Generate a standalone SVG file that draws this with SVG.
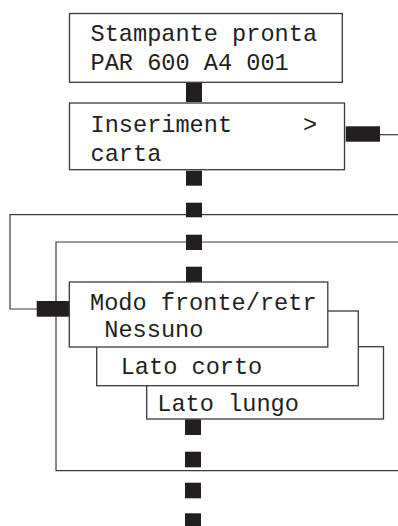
<svg xmlns="http://www.w3.org/2000/svg" width="398" height="526" viewBox="0 0 398 526">
<style>
.box{fill:#fff;stroke:#3a3a3a;stroke-width:1.3}
.ln{fill:none;stroke:#3a3a3a;stroke-width:1.2}
.blk{fill:#231f20}
text{font-family:"Liberation Mono","Courier New",monospace;font-size:23.6px;fill:#231f20}
</style>
<rect width="398" height="526" fill="#fff"/>
<g id="connectors">
<polyline class="ln" points="398,214.7 10,214.7 10,309 40,309"/>
<polyline class="ln" points="398,242 56,242 56,470.7 398,470.7"/>
<line class="ln" x1="378" y1="134.7" x2="398" y2="134.7"/>
<rect class="blk" x="186" y="83" width="16" height="19"/>
<rect class="blk" x="186" y="170.7" width="16" height="15"/>
<rect class="blk" x="345.7" y="126.3" width="34.3" height="15.4"/>
<rect class="blk" x="186" y="202.7" width="16" height="14.6"/>
<rect class="blk" x="186" y="234.7" width="16" height="15.3"/>
<rect class="blk" x="186" y="266.7" width="16" height="15.6"/>
<rect class="blk" x="36.7" y="301" width="32.6" height="15.7"/>
<rect class="blk" x="185" y="419.3" width="16" height="15.7"/>
<rect class="blk" x="185" y="451.7" width="16" height="15.6"/>
<rect class="blk" x="185" y="482.7" width="16" height="15.6"/>
<rect class="blk" x="185" y="513.3" width="16" height="15"/>
</g>
<g id="node-stampante">
<rect class="box" x="69.5" y="13.5" width="272.8" height="68.8"/>
<text x="90.5" y="41">Stampante pronta</text>
<text x="90.5" y="69.5">PAR 600 A4 001</text>
</g>
<g id="node-inserimento">
<rect class="box" x="69.5" y="103" width="275" height="66.7"/>
<text x="90.5" y="131.5">Inseriment</text>
<text x="303" y="131.5">&gt;</text>
<text x="90.5" y="161">carta</text>
</g>
<g id="node-lato-lungo">
<rect class="box" x="146.7" y="346.7" width="236.8" height="72.3"/>
<text x="157.3" y="410.5">Lato lungo</text>
</g>
<g id="node-lato-corto">
<rect class="box" x="96.7" y="311" width="261.6" height="74.7"/>
<text x="120.7" y="374">Lato corto</text>
</g>
<g id="node-modo">
<rect class="box" x="69.3" y="282" width="258.5" height="65"/>
<text x="90" y="310">Modo fronte/retr</text>
<text x="104.3" y="336.5">Nessuno</text>
</g>
</svg>
